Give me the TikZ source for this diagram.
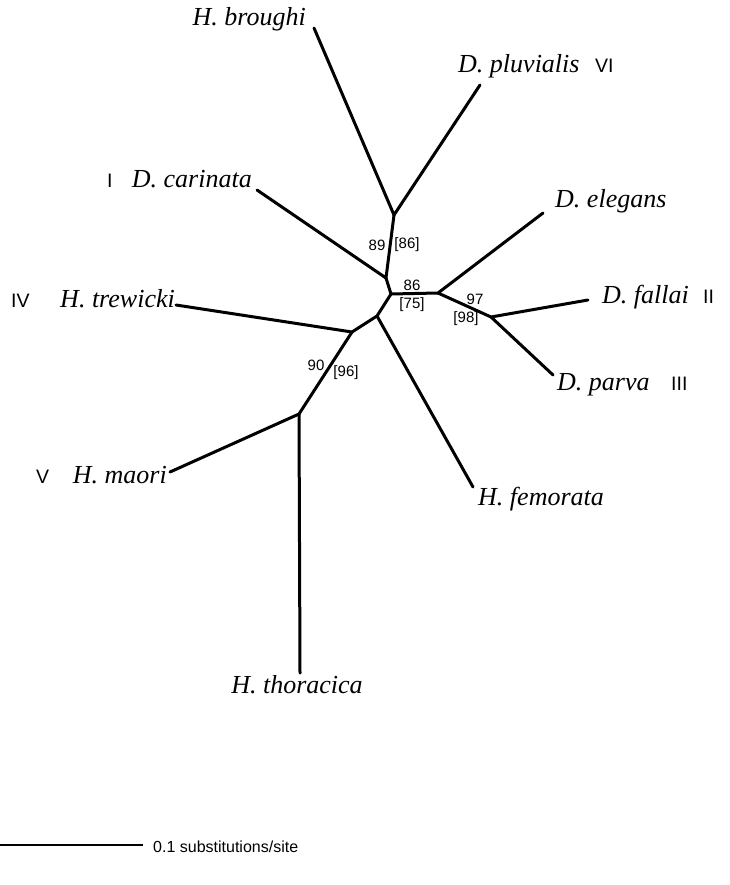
\documentclass[tikz,border=0pt]{standalone}
\usepackage{fontspec}
\setmainfont{Liberation Serif}
\setsansfont{Liberation Sans}
\begin{document}
\begin{tikzpicture}[x=1pt,y=-1pt,
  branch/.style={line width=3pt,line cap=round,line join=round},
  sp/.style={inner sep=0pt,font=\fontsize{26}{30}\selectfont\itshape},
  clade/.style={inner sep=0pt,font=\fontsize{19.5}{22}\sffamily},
  boot/.style={inner sep=0pt,font=\fontsize{15}{18}\sffamily},
  scaletxt/.style={inner sep=0pt,font=\fontsize{16}{19}\sffamily}]
\useasboundingbox (0,0) rectangle (729,885);
% internal nodes
\coordinate (A) at (394,215);
\coordinate (B) at (386,278);
\coordinate (C) at (391,294);
\coordinate (D) at (438,293);
\coordinate (E) at (491,317);
\coordinate (F) at (377,316);
\coordinate (G) at (352,332);
\coordinate (H) at (299,414);
% leaf ends
\coordinate (Lbr) at (314,28);
\coordinate (Lpl) at (480,85);
\coordinate (Lca) at (257,190);
\coordinate (Lel) at (543,213);
\coordinate (Lfa) at (588,300);
\coordinate (Lpa) at (553,375);
\coordinate (Lfe) at (473,487);
\coordinate (Ltr) at (176,305);
\coordinate (Lma) at (170,472);
\coordinate (Lth) at (300,673);
% branches
\draw[branch] (Lbr) -- (A) -- (Lpl);
\draw[branch] (A) -- (B) -- (Lca);
\draw[branch] (B) -- (C) -- (D) -- (Lel);
\draw[branch] (D) -- (E) -- (Lfa);
\draw[branch] (E) -- (Lpa);
\draw[branch] (C) -- (F) -- (Lfe);
\draw[branch] (F) -- (G) -- (Ltr);
\draw[branch] (G) -- (H) -- (Lma);
\draw[branch] (H) -- (Lth);
% species labels
\node[sp,anchor=base east] (tbr) at (306,26) {H. broughi};
\node[sp,anchor=base west] (tpl) at (458,73) {D. pluvialis};
\node[clade,anchor=base west] (cVI) at (595,73) {VI};
\node[sp,anchor=base east] (tca) at (252,188) {D. carinata};
\node[clade,anchor=base west] (cI) at (107,188) {I};
\node[sp,anchor=base west] (tel) at (555,208) {D. elegans};
\node[sp,anchor=base west] (tfa) at (602,303) {D. fallai};
\node[clade,anchor=base west] (cII) at (703,303) {II};
\node[sp,anchor=base west] (tpa) at (557,390) {D. parva};
\node[clade,anchor=base west] (cIII) at (671,390) {III};
\node[sp,anchor=base east] (ttr) at (175,307) {H. trewicki};
\node[clade,anchor=base west] (cIV) at (11,307) {IV};
\node[sp,anchor=base east] (tma) at (167,483) {H. maori};
\node[clade,anchor=base west] (cV) at (36,483) {V};
\node[sp,anchor=base west] (tfe) at (478,505) {H. femorata};
\node[sp,anchor=base] (tth) at (297,693) {H. thoracica};
% support values
\node[boot] (b89) at (377,245) {89};
\node[boot] (b86a) at (407,245) {[86]};
\node[boot] (b86) at (412,285) {86};
\node[boot] (b75) at (412,305) {[75]};
\node[boot] (b97) at (475,299) {97};
\node[boot] (b98) at (466,319) {[98]};
\node[boot] (b90) at (316,365) {90};
\node[boot] (b96) at (346,373) {[96]};
% scale bar
\coordinate (S0) at (0,845);
\coordinate (S1) at (143,845);
\draw[line width=1.2pt] (S0) -- (S1);
\node[scaletxt,anchor=base west] (stxt) at (153,852) {0.1 substitutions/site};
\end{tikzpicture}
\end{document}
